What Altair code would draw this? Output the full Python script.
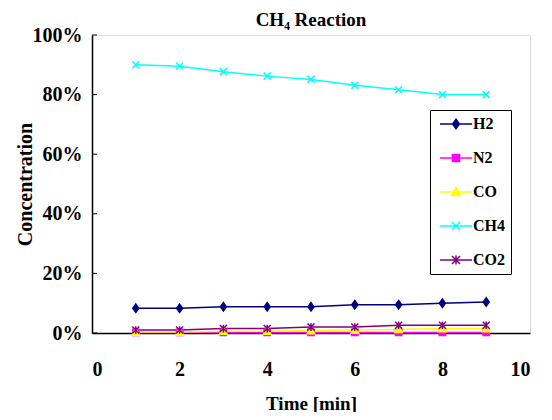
import altair as alt
import pandas as pd

times = [1, 2, 3, 4, 5, 6, 7, 8, 9]
series_names = ["H2", "N2", "CO", "CH4", "CO2"]
h2 = [8.3, 8.3, 8.8, 8.8, 8.8, 9.5, 9.5, 10.0, 10.4]
n2 = [0.2, 0.2, 0.2, 0.2, 0.2, 0.2, 0.2, 0.2, 0.2]
co = [0.3, 0.3, 0.6, 0.6, 0.8, 1.0, 1.2, 1.5, 1.5]
ch4 = [90.0, 89.5, 87.7, 86.2, 85.1, 83.1, 81.6, 80.0, 80.0]
co2 = [1.0, 1.0, 1.5, 1.5, 2.0, 2.0, 2.6, 2.6, 2.6]
colors = ["#000080", "#FF00FF", "#FFFF00", "#00FFFF", "#800080"]
x_ticks = [0, 2, 4, 6, 8, 10]
y_ticks = [0, 20, 40, 60, 80, 100]

marker_paths = [
    "M0,-1.2L0.85,0L0,1.2L-0.85,0Z",
    "M-0.9,-0.9L0.9,-0.9L0.9,0.9L-0.9,0.9Z",
    "M0,-1.1L1.1,0.9L-1.1,0.9Z",
    "M-1,-1L1,1M-1,1L1,-1",
    "M-1,-1L1,1M-1,1L1,-1M0,-1.1L0,1.1",
]
legend_paths = [
    "M-4,0L4,0M0,-1.2L0.85,0L0,1.2L-0.85,0Z",
    "M-4,0L4,0M-0.9,-0.9L0.9,-0.9L0.9,0.9L-0.9,0.9Z",
    "M-4,0L4,0M0,-1.1L1.1,0.9L-1.1,0.9Z",
    "M-4,0L4,0M-1,-1L1,1M-1,1L1,-1",
    "M-4,0L4,0M-1,-1L1,1M-1,1L1,-1M0,-1.1L0,1.1",
]

rows = []
for name, vals in zip(series_names, [h2, n2, co, ch4, co2]):
    for t, v in zip(times, vals):
        rows.append({"series": name, "time": t, "value": v})
df = pd.DataFrame(rows)
ytick_df = pd.DataFrame({"value": y_ticks})

FONT = "Times New Roman, Liberation Serif, DejaVu Serif, serif"

x_enc = alt.X(
    "time:Q",
    scale=alt.Scale(domain=[0, 10], nice=False),
    axis=alt.Axis(
        values=x_ticks, title="Time [min]", grid=False, ticks=False,
        labelFont=FONT, labelFontSize=20, labelFontWeight="bold", labelColor="black",
        labelPadding=26, domainColor="black", domainWidth=1.5,
        titleFont=FONT, titleFontSize=19, titleFontWeight="bold", titleColor="black",
        titleX=219, titleY=70, titleBaseline="middle", titleAlign="center",
    ),
)
y_enc = alt.Y(
    "value:Q",
    scale=alt.Scale(domain=[0, 100], nice=False),
    axis=alt.Axis(
        values=y_ticks, title="Concentration", grid=False, ticks=False,
        labelExpr="datum.value + '%'",
        labelFont=FONT, labelFontSize=20, labelFontWeight="bold", labelColor="black",
        labelPadding=10, domainColor="black", domainWidth=1.5,
        titleFont=FONT, titleFontSize=20, titleFontWeight="bold", titleColor="black",
        titleX=-67, titleY=149, titleBaseline="middle", titleAlign="center", titleAngle=-90,
    ),
)

color_scale = alt.Scale(domain=series_names, range=colors)

base = alt.Chart(df)

lines = base.mark_line(strokeWidth=1.5).encode(
    x=x_enc, y=y_enc,
    stroke=alt.Stroke("series:N", scale=color_scale, legend=None),
)

points = base.mark_point(size=49, strokeWidth=1.5, opacity=1).encode(
    x=x_enc, y=y_enc,
    fill=alt.Fill("series:N", scale=color_scale, legend=None),
    stroke=alt.Stroke("series:N", scale=color_scale, legend=None),
    shape=alt.Shape("series:N", scale=alt.Scale(domain=series_names, range=marker_paths), legend=None),
)

leg = alt.Legend(
    title=None, orient="none", legendX=338, legendY=75, padding=6,
    strokeColor="black", fillColor="white",
    labelFont=FONT, labelFontSize=16, labelFontWeight="bold", labelColor="black",
    rowPadding=18, symbolOffset=12, labelOffset=9, symbolSize=64,
    symbolStrokeWidth=1.5, symbolOpacity=1,
)

legend_layer = base.transform_filter("false").mark_point(size=64, strokeWidth=1.5, opacity=1).encode(
    x=x_enc, y=y_enc,
    fill=alt.Fill("series:N", scale=color_scale, legend=leg),
    stroke=alt.Stroke("series:N", scale=color_scale, legend=leg),
    shape=alt.Shape("series:N", scale=alt.Scale(domain=series_names, range=legend_paths), legend=leg),
)

yticks = alt.Chart(ytick_df).mark_rule(color="black", strokeWidth=1).encode(
    x=alt.value(0), x2=alt.value(5), y=y_enc,
)

chart = (
    alt.layer(lines, points, yticks, legend_layer)
    .resolve_scale(shape="independent")
    .resolve_legend(fill="independent", stroke="independent", shape="independent")
    .properties(
        width=438, height=298,
        title=alt.Title("CH₄ Reaction", font=FONT, fontSize=19, fontWeight="bold",
                        color="black", anchor="middle", frame="group",
                        baseline="bottom", offset=-24),
        autosize=alt.AutoSizeParams(type="none"),
        padding={"left": 84, "top": 27, "right": 14, "bottom": 79},
    )
    .configure_view(stroke="#999999", strokeWidth=2)
    .configure(background="white")
)

chart.save("out.html", embed_options={"renderer": "svg", "actions": False})
